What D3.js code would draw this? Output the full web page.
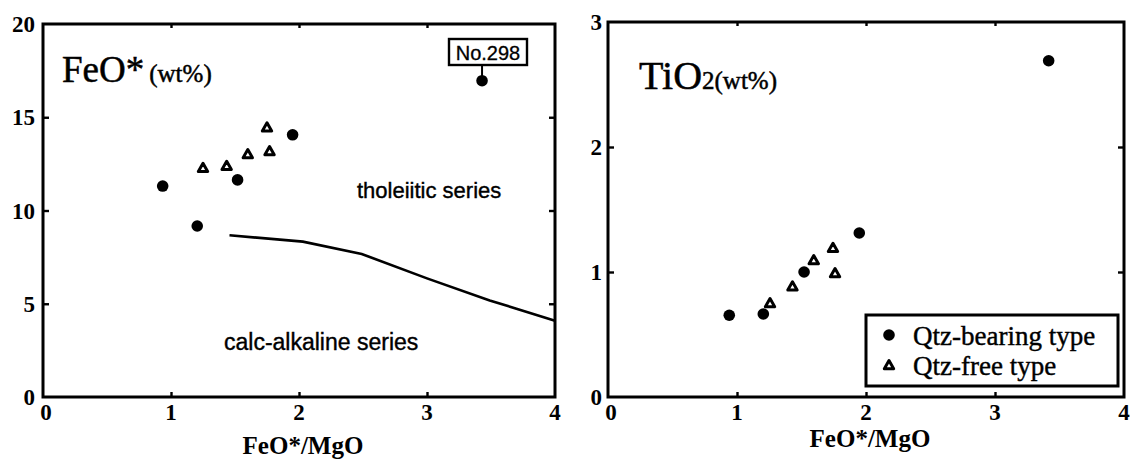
<!DOCTYPE html>
<html><head><meta charset="utf-8">
<script src="https://cdn.jsdelivr.net/npm/d3@7"></script>
<style>html,body{margin:0;padding:0;background:#fff;}svg{display:block;}</style>
</head><body>
<script>
// ---- data ----
const feoBearingX = [0.935, 1.205, 1.52, 1.95, 3.43];
const feoBearingY = [11.31, 9.17, 11.64, 14.06, 16.96];
const feoFreeX = [1.25, 1.435, 1.60, 1.77, 1.75];
const feoFreeY = [12.24, 12.35, 12.98, 13.14, 14.41];
const boundaryX = [1.457, 2.03, 2.49, 3.0, 3.49, 4.0];
const boundaryY = [8.67, 8.33, 7.67, 6.36, 5.18, 4.09];
const tiBearingX = [0.94, 1.204, 1.52, 1.948, 3.416];
const tiBearingY = [0.654, 0.664, 1.00, 1.312, 2.69];
const tiFreeX = [1.256, 1.43, 1.595, 1.744, 1.76];
const tiFreeY = [0.744, 0.878, 1.088, 1.186, 0.984];
const xTicks = [0, 1, 2, 3, 4];
const feoTicks = [0, 5, 10, 15, 20];
const tiTicks = [0, 1, 2, 3];
const labelledSample = "No.298";
const legendLabels = ["Qtz-bearing type", "Qtz-free type"];

const W = 1134, H = 461;
const svg = d3.select("body").append("svg").attr("width", W).attr("height", H);
const serif = "'Liberation Serif','Times New Roman',serif";
const sans = "'Liberation Sans',Arial,Helvetica,sans-serif";

const triSize = 38;
const triPath = d3.symbol(d3.symbolTriangle, triSize)();
const circR = 5.8;

function panel(opt) {
  const x = d3.scaleLinear().domain([0, 4]).range([opt.x0, opt.x1]);
  const y = d3.scaleLinear().domain(opt.yDomain).range([opt.y0, opt.y1]);
  const g = svg.append("g");
  g.append("rect").attr("x", x(0)).attr("y", y(opt.yDomain[1]))
    .attr("width", x(4) - x(0)).attr("height", y(opt.yDomain[0]) - y(opt.yDomain[1]))
    .attr("fill", "none").attr("stroke", "#000").attr("stroke-width", 3);
  const inner = opt.yTicks.slice(1, -1);
  const xi = xTicks.slice(1, -1);
  g.append("g").attr("transform", `translate(${x(0)},0)`)
    .call(d3.axisRight(y).tickValues(inner).tickSize(6).tickFormat(""))
    .call(s => s.select(".domain").remove())
    .selectAll("line").attr("stroke-width", 2.4);
  g.append("g").attr("transform", `translate(${x(4)},0)`)
    .call(d3.axisLeft(y).tickValues(inner).tickSize(6).tickFormat(""))
    .call(s => s.select(".domain").remove())
    .selectAll("line").attr("stroke-width", 2.4);
  g.append("g").attr("transform", `translate(0,${y(opt.yDomain[0])})`)
    .call(d3.axisTop(x).tickValues(xi).tickSize(5).tickFormat(""))
    .call(s => s.select(".domain").remove())
    .selectAll("line").attr("stroke-width", 2.4);
  g.append("g").attr("transform", `translate(0,${y(opt.yDomain[1])})`)
    .call(d3.axisBottom(x).tickValues(xi).tickSize(4).tickFormat(""))
    .call(s => s.select(".domain").remove())
    .selectAll("line").attr("stroke-width", 2.4);
  g.selectAll(".ylab").data(opt.yTicks).enter().append("text")
    .attr("x", opt.ylabX).attr("y", d => y(d) + 8)
    .attr("text-anchor", "end").attr("font-family", serif).attr("font-weight", "bold")
    .attr("font-size", 23).text(d => d);
  g.selectAll(".xlab").data(xTicks).enter().append("text")
    .attr("x", d => x(d) + (d === 0 ? 3 : 0)).attr("y", opt.xlabY)
    .attr("text-anchor", "middle").attr("font-family", serif).attr("font-weight", "bold")
    .attr("font-size", 23).text(d => d);
  g.append("text").attr("x", (x(0) + x(4)) / 2 + 4).attr("y", opt.titleY)
    .attr("text-anchor", "middle").attr("font-family", serif).attr("font-weight", "bold")
    .attr("font-size", 25).text("FeO*/MgO");
  return {x, y, g};
}

// ---- left panel ----
const L = panel({x0: 43, x1: 555, y0: 397, y1: 24, yDomain: [0, 20], yTicks: feoTicks,
  ylabX: 35, xlabY: 420, titleY: 454});
const lt = L.g.append("text").attr("x", 62).attr("y", 82).attr("font-family", serif)
  .attr("stroke", "#000").attr("stroke-width", 0.5);
lt.append("tspan").attr("font-size", 37).text("FeO*");
lt.append("tspan").attr("font-size", 25).attr("dx", 5).text("(wt%)");

L.g.append("path").datum(boundaryX.map((d, i) => [d, boundaryY[i]]))
  .attr("d", d3.line().x(d => L.x(d[0])).y(d => L.y(d[1])))
  .attr("fill", "none").attr("stroke", "#000").attr("stroke-width", 2.6);

L.g.append("text").attr("x", 357).attr("y", 198).attr("font-family", sans)
  .attr("font-size", 22).attr("stroke", "#000").attr("stroke-width", 0.4).text("tholeiitic series");
L.g.append("text").attr("x", 224).attr("y", 350).attr("font-family", sans)
  .attr("font-size", 23).attr("stroke", "#000").attr("stroke-width", 0.4).text("calc-alkaline series");

const lastI = feoBearingX.length - 1;
const px = L.x(feoBearingX[lastI]), py = L.y(feoBearingY[lastI]);
L.g.append("line").attr("x1", px).attr("x2", px).attr("y1", 65).attr("y2", py)
  .attr("stroke", "#000").attr("stroke-width", 2);
L.g.append("rect").attr("x", 449).attr("y", 39).attr("width", 78).attr("height", 26)
  .attr("fill", "#fff").attr("stroke", "#000").attr("stroke-width", 2.4);
L.g.append("text").attr("x", 488).attr("y", 60).attr("text-anchor", "middle")
  .attr("font-family", sans).attr("font-size", 20).attr("stroke", "#000").attr("stroke-width", 0.3)
  .text(labelledSample);

L.g.selectAll(".c").data(feoBearingX).enter().append("circle")
  .attr("cx", d => L.x(d)).attr("cy", (d, i) => L.y(feoBearingY[i])).attr("r", circR).attr("fill", "#000");
L.g.selectAll(".t").data(feoFreeX).enter().append("path")
  .attr("d", triPath).attr("transform", (d, i) => `translate(${L.x(d)},${L.y(feoFreeY[i])})`)
  .attr("fill", "#fff").attr("stroke", "#000").attr("stroke-width", 3).attr("stroke-linejoin", "round");

// ---- right panel ----
const R = panel({x0: 608, x1: 1124, y0: 397, y1: 22, yDomain: [0, 3], yTicks: tiTicks,
  ylabX: 602, xlabY: 420, titleY: 447});
const rt = R.g.append("text").attr("x", 639).attr("y", 89).attr("font-family", serif)
  .attr("stroke", "#000").attr("stroke-width", 0.5);
rt.append("tspan").attr("font-size", 40).text("TiO");
rt.append("tspan").attr("font-size", 25).text("2(wt%)");

R.g.selectAll(".c").data(tiBearingX).enter().append("circle")
  .attr("cx", d => R.x(d)).attr("cy", (d, i) => R.y(tiBearingY[i])).attr("r", circR).attr("fill", "#000");
R.g.selectAll(".t").data(tiFreeX).enter().append("path")
  .attr("d", triPath).attr("transform", (d, i) => `translate(${R.x(d)},${R.y(tiFreeY[i])})`)
  .attr("fill", "#fff").attr("stroke", "#000").attr("stroke-width", 3).attr("stroke-linejoin", "round");

const lg = R.g.append("g");
lg.append("rect").attr("x", 866).attr("y", 315).attr("width", 252).attr("height", 71)
  .attr("fill", "#fff").attr("stroke", "#000").attr("stroke-width", 3);
lg.append("circle").attr("cx", 889).attr("cy", 335).attr("r", circR).attr("fill", "#000");
lg.append("path").attr("d", triPath).attr("transform", "translate(889,366)")
  .attr("fill", "#fff").attr("stroke", "#000").attr("stroke-width", 3).attr("stroke-linejoin", "round");
lg.selectAll(".lt").data(legendLabels).enter().append("text")
  .attr("x", 913).attr("y", (d, i) => 345 + i * 30).attr("font-family", serif)
  .attr("font-size", 27).attr("stroke", "#000").attr("stroke-width", 0.4).text(d => d);
</script>
</body></html>
